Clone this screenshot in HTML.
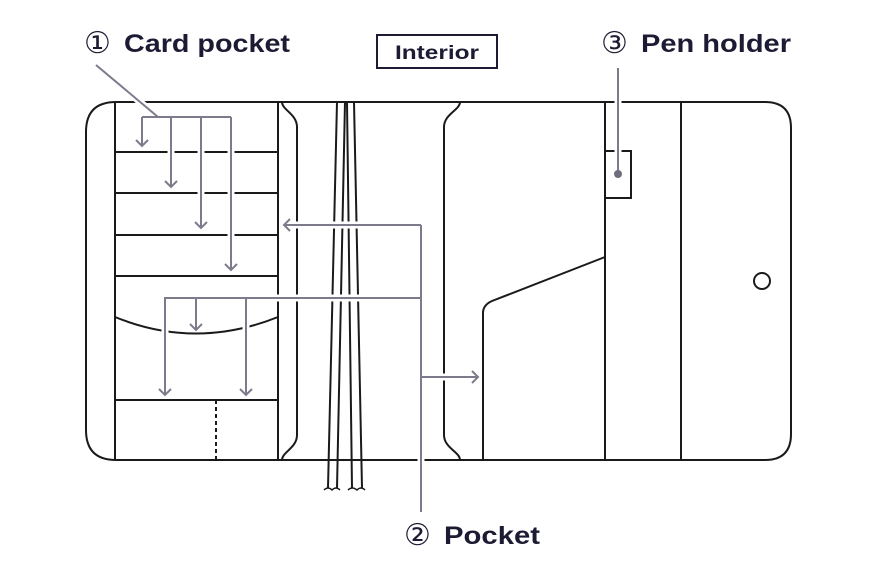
<!DOCTYPE html>
<html><head><meta charset="utf-8"><style>
html,body{margin:0;padding:0;background:#fff;}
svg{display:block;}
text{font-family:"Liberation Sans","DejaVu Sans",sans-serif;font-weight:bold;fill:#1c1b33;}
.c{font-family:"DejaVu Sans",sans-serif;font-weight:normal;}
</style></head><body>
<svg width="880" height="576" viewBox="0 0 880 576" xmlns="http://www.w3.org/2000/svg">
<g fill="none" stroke="#1a1a1a" stroke-width="2">
  <path d="M116,102 L765,102 Q791,102 791,128 L791,434 Q791,460 765,460 L116,460 Q86,460 86,430 L86,132 Q86,102 116,102 Z"/>
  <line x1="115" y1="102" x2="115" y2="460"/>
  <line x1="278" y1="102" x2="278" y2="460"/>
  <line x1="115" y1="152" x2="278" y2="152"/>
  <line x1="115" y1="193" x2="278" y2="193"/>
  <line x1="115" y1="235" x2="278" y2="235"/>
  <line x1="115" y1="276" x2="278" y2="276"/>
  <path d="M115,317 Q196,350 278,317"/>
  <line x1="115" y1="400" x2="278" y2="400"/>
  <line x1="216" y1="400" x2="216" y2="460" stroke-dasharray="4,3"/>
  <path d="M282,102 C282,110 297,114 297,127 L297,435 C297,448 282,452 282,460"/>
  <path d="M460,102 C460,110 444,114 444,127 L444,435 C444,448 460,452 460,460"/>
  <line x1="337" y1="102" x2="328" y2="488"/>
  <line x1="345" y1="102" x2="337" y2="488"/>
  <line x1="347" y1="102" x2="352" y2="488"/>
  <line x1="354" y1="102" x2="362" y2="488"/>
  <path d="M324,490 Q328,486 332,490 Q336,486 340,490" stroke-width="1.5"/>
  <path d="M348,490 Q352,486 357,490 Q361,486 365,490" stroke-width="1.5"/>
  <line x1="605" y1="102" x2="605" y2="460"/>
  <line x1="681" y1="102" x2="681" y2="460"/>
  <rect x="605" y="151" width="26" height="47"/>
  <path d="M605,257 L492,301 Q483,305 483,313 L483,460"/>
  <circle cx="762" cy="281" r="8"/>
</g>
<g fill="none" stroke="#fff" stroke-width="7">
  <line x1="96" y1="65" x2="158" y2="117"/>
  <path d="M142,117 L231,117 M142,117 V144 M171,117 V184 M201,117 V226 M231,117 V267"/>
  <path d="M421,225 V512 M421,225 H287 M421,298 H165 V392 M196,298 V327 M246,298 V392 M421,377 H476"/>
  <line x1="618" y1="68" x2="618" y2="170"/>
</g>
<g fill="none" stroke="#7c7b8c" stroke-width="2">
  <line x1="96" y1="65" x2="158" y2="117"/>
  <path d="M142,117 L231,117 M142,117 V146 M171,117 V187 M201,117 V228 M231,117 V270"/>
  <path d="M136,140 L142,146 L148,140 M165,181 L171,187 L177,181 M195,222 L201,228 L207,222 M225,264 L231,270 L237,264"/>
  <path d="M421,225 V512 M421,225 H284 M290,219 L284,225 L290,231 M421,298 H165 V395 M196,298 V330 M246,298 V395 M421,377 H478"/>
  <path d="M159,389 L165,395 L171,389 M190,324 L196,330 L202,324 M240,389 L246,395 L252,389 M472,371 L478,377 L472,383"/>
  <line x1="618" y1="68" x2="618" y2="174"/>
</g>
<circle cx="618" cy="174" r="4" fill="#6e6d7e"/>
<text class="c" x="84" y="53" font-size="30">①</text>
<text x="124" y="52" font-size="25" textLength="166" lengthAdjust="spacingAndGlyphs">Card pocket</text>
<rect x="377" y="35" width="120" height="33" fill="none" stroke="#1c1b33" stroke-width="2"/>
<text x="395" y="59" font-size="19" textLength="84" lengthAdjust="spacingAndGlyphs">Interior</text>
<text class="c" x="601" y="53" font-size="30">③</text>
<text x="641" y="52" font-size="25" textLength="150" lengthAdjust="spacingAndGlyphs">Pen holder</text>
<text class="c" x="404" y="545" font-size="30">②</text>
<text x="444" y="544" font-size="25" textLength="96" lengthAdjust="spacingAndGlyphs">Pocket</text>
</svg>
</body></html>
